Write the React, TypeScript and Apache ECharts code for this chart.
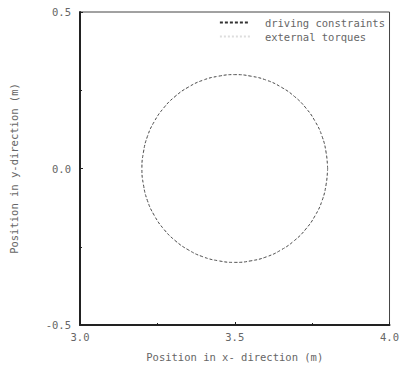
import React, { useEffect, useRef } from "react";
import * as echarts from "echarts";

// Points (x in m, y in m)
const xPos = [3.8, 3.795, 3.782, 3.76, 3.73, 3.693, 3.65, 3.603, 3.552, 3.5, 3.448, 3.397, 3.35, 3.307, 3.27, 3.24, 3.218, 3.205, 3.2, 3.205, 3.218, 3.24, 3.27, 3.307, 3.35, 3.397, 3.448, 3.5, 3.552, 3.603, 3.65, 3.693, 3.73, 3.76, 3.782, 3.795, 3.8];
const yPos = [0, 0.052, 0.103, 0.15, 0.193, 0.23, 0.26, 0.282, 0.295, 0.3, 0.295, 0.282, 0.26, 0.23, 0.193, 0.15, 0.103, 0.052, 0, -0.052, -0.103, -0.15, -0.193, -0.23, -0.26, -0.282, -0.295, -0.3, -0.295, -0.282, -0.26, -0.23, -0.193, -0.15, -0.103, -0.052, 0];
const seriesNames = ["driving constraints", "external torques"];
const xTicks = ["3.0", "3.5", "4.0"];
const yTicks = ["-0.5", "0.0", "0.5"];

const FONT = "DejaVu Sans Mono";
const FS = 10.5;
const TXT = "#666";

export default function App() {
  const ref = useRef<HTMLDivElement>(null);
  useEffect(() => {
    if (!ref.current) return;
    const chart = echarts.init(ref.current, undefined, { renderer: "svg" });
    const pts = xPos.map((x, i) => [x, yPos[i]]);
    chart.setOption({
      animation: false,
      textStyle: { fontFamily: FONT, color: TXT },
      grid: { left: 75, right: 8, top: 12, bottom: 40, show: true, borderColor: "#444", borderWidth: 1 },
      legend: {
        orient: "vertical",
        right: 12,
        top: 12,
        itemWidth: 30,
        itemHeight: 8,
        itemGap: 3,
        itemStyle: { opacity: 0 },
        textStyle: { fontFamily: FONT, fontSize: FS, color: TXT, padding: [0, 0, 0, 10] },
        data: seriesNames,
      },
      xAxis: {
        type: "value",
        min: 3,
        max: 4,
        interval: 0.5,
        name: "Position in x- direction (m)",
        nameLocation: "middle",
        nameGap: 26,
        nameTextStyle: { fontFamily: FONT, fontSize: FS, color: TXT },
        axisLine: { onZero: false, lineStyle: { color: "#222", width: 2 } },
        axisTick: { inside: true, length: 3, lineStyle: { color: "#222" } },
        minorTick: { show: true, splitNumber: 2, length: 2, lineStyle: { color: "#222" } },
        splitLine: { show: false },
        axisLabel: {
          fontFamily: FONT, fontSize: FS, color: TXT, margin: 6,
          formatter: (v: number) => xTicks.find((t) => Math.abs(parseFloat(t) - v) < 1e-6) ?? "",
        },
      },
      yAxis: {
        type: "value",
        min: -0.5,
        max: 0.5,
        interval: 0.5,
        name: "Position in y-direction (m)",
        nameLocation: "middle",
        nameGap: 61,
        nameTextStyle: { fontFamily: FONT, fontSize: FS, color: TXT },
        axisLine: { onZero: false, lineStyle: { color: "#222", width: 2 } },
        axisTick: { inside: true, length: 3, lineStyle: { color: "#222" } },
        minorTick: { show: true, splitNumber: 2, length: 2, lineStyle: { color: "#222" } },
        splitLine: { show: false },
        axisLabel: {
          fontFamily: FONT, fontSize: FS, color: TXT, margin: 9,
          formatter: (v: number) => yTicks.find((t) => Math.abs(parseFloat(t) - v) < 1e-6) ?? "",
        },
      },
      series: [
        {
          name: seriesNames[0],
          type: "line",
          data: pts,
          smooth: true,
          symbol: "none",
          lineStyle: { color: "#333", width: 1, type: [3, 2] },
          itemStyle: { color: "#333" },
        },
        {
          name: seriesNames[1],
          type: "line",
          data: pts,
          smooth: true,
          symbol: "none",
          lineStyle: { color: "#ddd", width: 0.5, type: "dotted" },
          itemStyle: { color: "#ddd" },
        },
      ],
    });
    return () => chart.dispose();
  }, []);
  return <div ref={ref} style={{ width: 402, height: 367, position: "absolute", left: 0, top: 0 }} />;
}
